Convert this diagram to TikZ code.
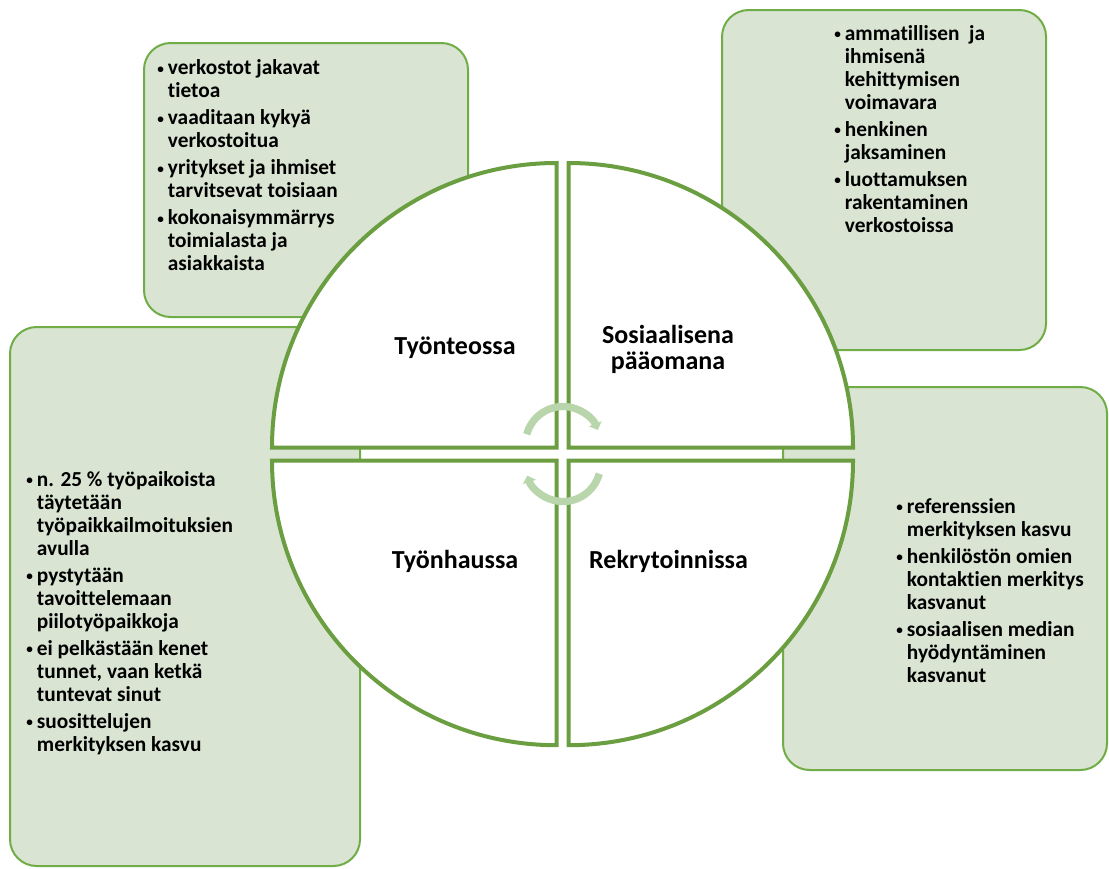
\documentclass[tikz,border=0pt]{standalone}
\usepackage{fontspec}
\setmainfont{Carlito}[Ligatures=NoCommon]
\usetikzlibrary{arrows.meta}
\definecolor{vkGreen}{HTML}{70AD47}
\definecolor{vkGreenDark}{HTML}{6A9E40}
\definecolor{vkGreenLight}{HTML}{D9E4D2}
\definecolor{vkArrow}{HTML}{B9D5AB}
\newcommand{\bulletlist}[1]{\begin{tabular}[t]{@{}p{8pt}@{}l@{}}#1\end{tabular}}
\newcommand{\bpt}{\raisebox{0.12ex}{\scalebox{0.62}{\textbullet}}}
\tikzset{
  infobox/.style={
    draw=vkGreen, line width=1.5pt,
    fill=vkGreenLight,
    rounded corners=20pt
  },
  quarter/.style={
    draw=vkGreenDark, line width=3pt,
    fill=white
  },
  cyclearrow/.style={
    -{Triangle[length=5pt, width=10pt]},
    vkArrow, line width=5.5pt
  },
  bullets/.style={
    anchor=base west, inner sep=0pt,
    font=\fontsize{16}{17.25}\selectfont\bfseries
  },
  quadlabel/.style={
    align=center, inner sep=0pt, anchor=base,
    font=\fontsize{19.5}{19.5}\selectfont\bfseries
  }
}

\begin{document}
\begin{tikzpicture}[x=0.75pt, y=-0.75pt]
  \useasboundingbox (0,0) rectangle (1109,868);
  % boxes behind the circle
  \draw[infobox] (144,43) rectangle (468,317);
  \draw[infobox] (722,10) rectangle (1046,350);
  \draw[infobox] (10,327) rectangle (360,866);
  \draw[infobox] (783,387) rectangle (1107,770);
  % four quarters
  \foreach \cx/\cy/\a in {556.5/447.5/180, 568.5/447.5/270, 568.5/460.7/0, 556.5/460.7/90} {
    \draw[quarter] (\cx,\cy) -- ++(\a:284.5) arc[start angle=\a, end angle=\a+90, radius=284.5] -- cycle;
  }
  \coordinate (hubtop) at (563,444);
  \coordinate (hubbot) at (563,464);
  \draw[cyclearrow] (hubtop) ++(195:37.5) arc[start angle=195, end angle=338, radius=37.5];
  \draw[cyclearrow] (hubbot) ++(15:37.5) arc[start angle=15, end angle=162, radius=37.5];
  % quarter labels
  \node[quadlabel] (work) at (455,354) {Työnteossa};
  \node[quadlabel, anchor=center] (capital) at (668,349) {Sosiaalisena\\pääomana};
  \node[quadlabel] (search) at (455,568) {Työnhaussa};
  \node[quadlabel] (recruit) at (668.5,568) {Rekrytoinnissa};
  % bullet texts
  \node[bullets] (worklist) at (157,74.3) {\bulletlist{
    \bpt & verkostot jakavat\\ & tietoa\\[3pt]
    \bpt & vaaditaan kykyä\\ & verkostoitua\\[3pt]
    \bpt & yritykset ja ihmiset\\ & tarvitsevat toisiaan\\[3pt]
    \bpt & kokonaisymmärrys\\ & toimialasta ja\\ & asiakkaista}};
  \node[bullets] (capitallist) at (834,40) {\bulletlist{
    \bpt & ammatillisen\ \ ja\\ & ihmisenä\\ & kehittymisen\\ & voimavara\\[3pt]
    \bpt & henkinen\\ & jaksaminen\\[3pt]
    \bpt & luottamuksen\\ & rakentaminen\\ & verkostoissa}};
  \node[bullets] (searchlist) at (26,486) {\bulletlist{
    \bpt & n. 25 \% työpaikoista\\ & täytetään\\ & työpaikkailmoituksien\\ & avulla\\[3pt]
    \bpt & pystytään\\ & tavoittelemaan\\ & piilotyöpaikkoja\\[3pt]
    \bpt & ei pelkästään kenet\\ & tunnet, vaan ketkä\\ & tuntevat sinut\\[3pt]
    \bpt & suosittelujen\\ & merkityksen kasvu}};
  \node[bullets] (recruitlist) at (896,513) {\bulletlist{
    \bpt & referenssien\\ & merkityksen kasvu\\[3pt]
    \bpt & henkilöstön omien\\ & kontaktien merkitys\\ & kasvanut\\[3pt]
    \bpt & sosiaalisen median\\ & hyödyntäminen\\ & kasvanut}};
\end{tikzpicture}
\end{document}
